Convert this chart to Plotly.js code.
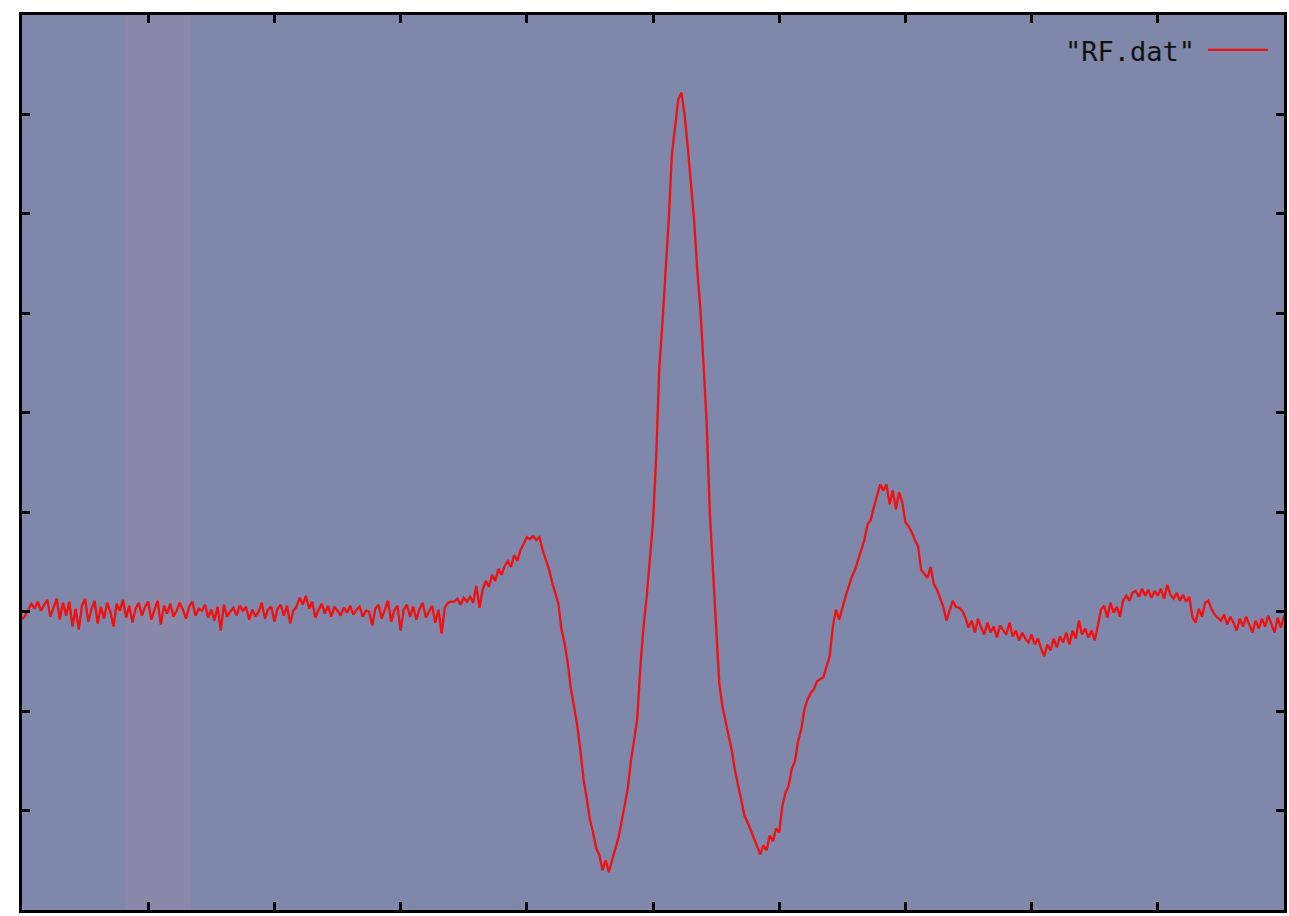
<!DOCTYPE html>
<html>
<head>
<meta charset="utf-8">
<script src="https://cdn.plot.ly/plotly-3.0.1.min.js"></script>
<style>
html,body{margin:0;padding:0;background:#ffffff;}
#chart{width:1289px;height:916px;}
</style>
</head>
<body>
<div id="chart"></div>
<script>
// Sampling of RF.dat: first sample time and step (arbitrary units)
const t0 = 0;
const dt = 0.025;
const seriesName = '"RF.dat"';

// Signal values (arbitrary units, baseline = 0)
const rfBaseline = [
  -0.08, -0.04, 0.02, 0.08, 0.03, 0.10, 0.01, 0.06, 0.12, -0.05,
  0.04, 0.13, -0.08, 0.09, -0.04, 0.10, -0.15, 0.03, -0.18, 0.06,
  0.13, -0.10, 0.02, 0.11, -0.12, 0.05, -0.07, 0.09, 0.00, -0.15,
  0.08, 0.01, 0.12, -0.06, 0.06, -0.11, 0.03, 0.09, -0.04, 0.05,
  0.10, -0.08, 0.02, 0.11, -0.13, 0.06, -0.02, 0.08, -0.05, 0.01,
  0.09, 0.02, -0.07, 0.05, 0.10, -0.04, 0.03, 0.01, 0.07, -0.06,
  0.02, -0.09, 0.05, -0.19, 0.07, -0.05, 0.00, 0.04, -0.04, 0.06,
  0.01, 0.05, -0.08, 0.02, -0.05, 0.00, 0.09, -0.07, 0.02, 0.05,
  -0.10, 0.03, 0.07, -0.04, 0.06, -0.12, 0.01, 0.05, 0.14, 0.07,
  0.16, 0.03, 0.10, -0.06, 0.02, 0.08, -0.02, 0.06, -0.05, 0.05,
  0.01, -0.04, 0.04, -0.01, 0.06, -0.03, 0.02, 0.05, -0.05, 0.01,
  0.00, -0.14, 0.03, 0.07, -0.07, 0.02, 0.11, -0.10, 0.01, 0.06,
  -0.19, 0.02, 0.07, -0.05, 0.05, -0.08, 0.03, 0.09, -0.06, 0.00,
  0.06, -0.11, 0.02, -0.22, 0.04, 0.09, 0.10
];
const rfPulse = [
  0.10, 0.13, 0.07, 0.14, 0.10, 0.15, 0.09, 0.26, 0.04, 0.22,
  0.31, 0.25, 0.37, 0.31, 0.43, 0.37, 0.46, 0.51, 0.45, 0.57,
  0.51, 0.62, 0.68, 0.75, 0.73, 0.76, 0.72, 0.75, 0.62, 0.52,
  0.43, 0.30, 0.18, 0.08, -0.18, -0.32, -0.52, -0.78, -0.96, -1.15,
  -1.40, -1.69, -1.88, -2.09, -2.22, -2.38, -2.45, -2.60, -2.50, -2.62,
  -2.50, -2.38, -2.28, -2.12, -1.95, -1.78, -1.50, -1.28, -1.08, -0.55,
  -0.15, 0.15, 0.55, 0.90, 1.55, 2.45, 2.91, 3.40, 3.95, 4.60,
  4.90, 5.15, 5.22, 5.00, 4.68, 4.30, 3.95, 3.45, 3.05, 2.50,
  1.90, 1.00, 0.40, -0.15, -0.72, -0.95, -1.10, -1.28, -1.40, -1.60,
  -1.76, -1.90, -2.05, -2.12, -2.20, -2.30, -2.38, -2.44, -2.35, -2.40,
  -2.25, -2.31, -2.18, -2.22, -1.95, -1.82, -1.75, -1.58, -1.50, -1.30,
  -1.18, -0.98, -0.88, -0.82, -0.78, -0.70, -0.68, -0.66, -0.55, -0.45,
  -0.15, 0.02, -0.08, 0.05, 0.15, 0.25, 0.35, 0.42, 0.52, 0.62,
  0.72, 0.88, 0.92, 1.05, 1.18, 1.28, 1.22, 1.28, 1.08, 1.22,
  1.03, 1.20, 1.10, 0.90, 0.86, 0.80, 0.72, 0.66, 0.42, 0.38,
  0.34, 0.45, 0.28, 0.22, 0.13, 0.05, -0.09, 0.02, 0.11, 0.05,
  0.04, 0.01, -0.06
];
const rfTail = [
  -0.16, -0.09, -0.21, -0.07, -0.16, -0.23, -0.11, -0.21, -0.15, -0.26,
  -0.14, -0.19, -0.23, -0.11, -0.25, -0.19, -0.29, -0.21, -0.27, -0.31,
  -0.23, -0.33, -0.27, -0.37, -0.45, -0.33, -0.39, -0.27, -0.36, -0.25,
  -0.31, -0.21, -0.33, -0.19, -0.27, -0.09, -0.23, -0.17, -0.26, -0.19,
  -0.29, -0.14, 0.02, 0.06, -0.06, 0.09, -0.01, 0.05, -0.05, 0.11,
  0.16, 0.11, 0.19, 0.21, 0.15, 0.23, 0.16, 0.22, 0.14, 0.21,
  0.16, 0.23, 0.13, 0.27, 0.17, 0.13, 0.19, 0.11, 0.17, 0.10,
  0.15, -0.06, -0.11, 0.03, -0.05, 0.09, 0.11, 0.03, -0.03, -0.06,
  -0.09, -0.03, -0.13, -0.05, -0.11, -0.19, -0.07, -0.15, -0.05, -0.13,
  -0.21, -0.09, -0.17, -0.07, -0.15, -0.04, -0.13, -0.21, -0.06, -0.16,
  -0.04
];

const rfValues = rfBaseline.concat(rfPulse, rfTail);
const rfTime = rfValues.map((_, i) => +(t0 + i * dt).toFixed(3));

// Axis extents and tick spacing (ticks carry no labels in the picture)
const xRange = [0, 10];
const xStep = 1;
const yRange = [-3, 6];
const yStep = 1;

const trace = {
  x: rfTime,
  y: rfValues,
  type: 'scatter',
  mode: 'lines',
  name: '',
  line: {color: '#f01010', width: 2.3},
  showlegend: true,
  hoverinfo: 'x+y'
};

const axisCommon = {
  showgrid: false,
  zeroline: false,
  showline: true,
  linecolor: '#000000',
  linewidth: 3,
  mirror: 'ticks',
  ticks: 'inside',
  ticklen: 8,
  tickwidth: 3,
  tickcolor: '#000000',
  showticklabels: false
};

const legendFont = {family: 'DejaVu Sans Mono', size: 27, color: '#111111'};

const layout = {
  width: 1289,
  height: 916,
  paper_bgcolor: '#ffffff',
  plot_bgcolor: '#7f88aa',
  margin: {l: 22, r: 5, t: 15, b: 6},
  xaxis: Object.assign({}, axisCommon, {range: xRange, dtick: xStep, tick0: 0}),
  yaxis: Object.assign({}, axisCommon, {range: yRange, dtick: yStep, tick0: 0}),
  showlegend: true,
  legend: {
    x: 0.996, y: 0.988, xanchor: 'right', yanchor: 'top',
    bgcolor: 'rgba(0,0,0,0)', borderwidth: 0,
    title: {text: seriesName, side: 'left', font: legendFont},
    font: legendFont,
    itemwidth: 60
  },
  shapes: [{
    type: 'rect', xref: 'paper', yref: 'paper', layer: 'below',
    x0: 0.082, x1: 0.134, y0: 0, y1: 1,
    fillcolor: 'rgba(200,140,165,0.16)', line: {width: 0}
  }]
};

Plotly.newPlot('chart', [trace], layout, {displayModeBar: false, staticPlot: true});
</script>
</body>
</html>
